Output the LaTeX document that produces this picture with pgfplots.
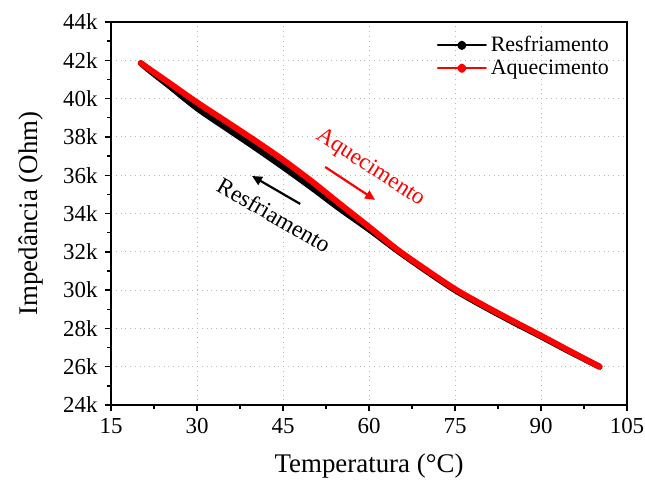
\documentclass[border=0pt]{standalone}
\usepackage{fontspec}
\setmainfont{Liberation Serif}
\usepackage{pgfplots}
\pgfplotsset{compat=1.18}
\usetikzlibrary{arrows.meta}
\begin{document}
\begin{tikzpicture}
\begin{axis}[
  scale only axis,
  width=258bp, height=191.5bp,
  xmin=15, xmax=105, ymin=24000, ymax=44000,
  xtick={15,30,...,105},
  ytick={24000,26000,...,44000},
  yticklabels={24k,26k,28k,30k,32k,34k,36k,38k,40k,42k,44k},
  scaled y ticks=false,
  minor x tick num=1, minor y tick num=1,
  tick align=outside, xtick pos=bottom, ytick pos=left,
  major tick length=3.2bp, minor tick length=2bp,
  every tick/.style={black, line width=0.7bp},
  axis line style={line width=0.8bp},
  grid=major,
  major grid style={dotted, gray!55, line width=0.5bp},
  /pgf/number format/assume math mode=true,
  ticklabel style={font=\fontsize{11.5}{13}\selectfont},
  xlabel={Temperatura (°C)}, ylabel={Impedância (Ohm)},
  label style={font=\fontsize{13.5}{15}\selectfont},
  xlabel style={yshift=-3bp},
  ylabel style={yshift=3bp},
  legend style={at={(0.985,0.985)}, anchor=north east, draw=none, fill=none,
    font=\fontsize{11}{13}\selectfont, row sep=-1.5bp},
  legend cell align=left,
  legend image code/.code={
    \draw[#1, line width=0.9bp] (0cm,0cm) -- (0.85cm,0cm);
    \fill[#1] (0.425cm,0cm) circle (0.8bp);
  },
]
\addplot[black, line width=3bp, line join=round, line cap=round, smooth, tension=0.5] coordinates {
(20.2,41850) (22,41400) (25,40700) (30,39500) (35,38480) (40,37470) (45,36430)
(50,35350) (55,34230) (60,33170) (65,32050) (70,31000) (75,30000) (80,29150)
(85,28350) (90,27580) (95,26790) (100.2,26000)};
\addlegendentry{Resfriamento}
\addplot[red, line width=3bp, line join=round, line cap=round, smooth, tension=0.5] coordinates {
(20.2,41850) (22,41475) (25,40850) (30,39800) (35,38820) (40,37830) (45,36800)
(50,35680) (55,34480) (60,33300) (65,32100) (70,31050) (75,30050) (80,29200)
(85,28400) (90,27620) (95,26820) (100.2,26000)};
\addlegendentry{Aquecimento}
\draw[red, line width=1.1bp, -{Triangle[length=5bp,width=4.5bp]}] (axis cs:52.35,36430) -- (axis cs:61.07,34710);
\draw[black, line width=1.1bp, -{Triangle[length=5bp,width=4.5bp]}] (axis cs:48.0,34500) -- (axis cs:39.6,35960);
\node[red, rotate=-33, font=\fontsize{11.6}{13}\selectfont] at (axis cs:60.2,36380) {Aquecimento};
\node[black, rotate=-30, font=\fontsize{11.8}{13}\selectfont] at (axis cs:43.45,33920) {Resfriamento};
\end{axis}
\pgfresetboundingbox
\path (current axis.south west) ++(-55.5bp,-37bp) coordinate (bl);
\path (current axis.north east) ++(9bp,11bp) coordinate (tr);
\useasboundingbox (bl) rectangle (tr);
\end{tikzpicture}
\end{document}
